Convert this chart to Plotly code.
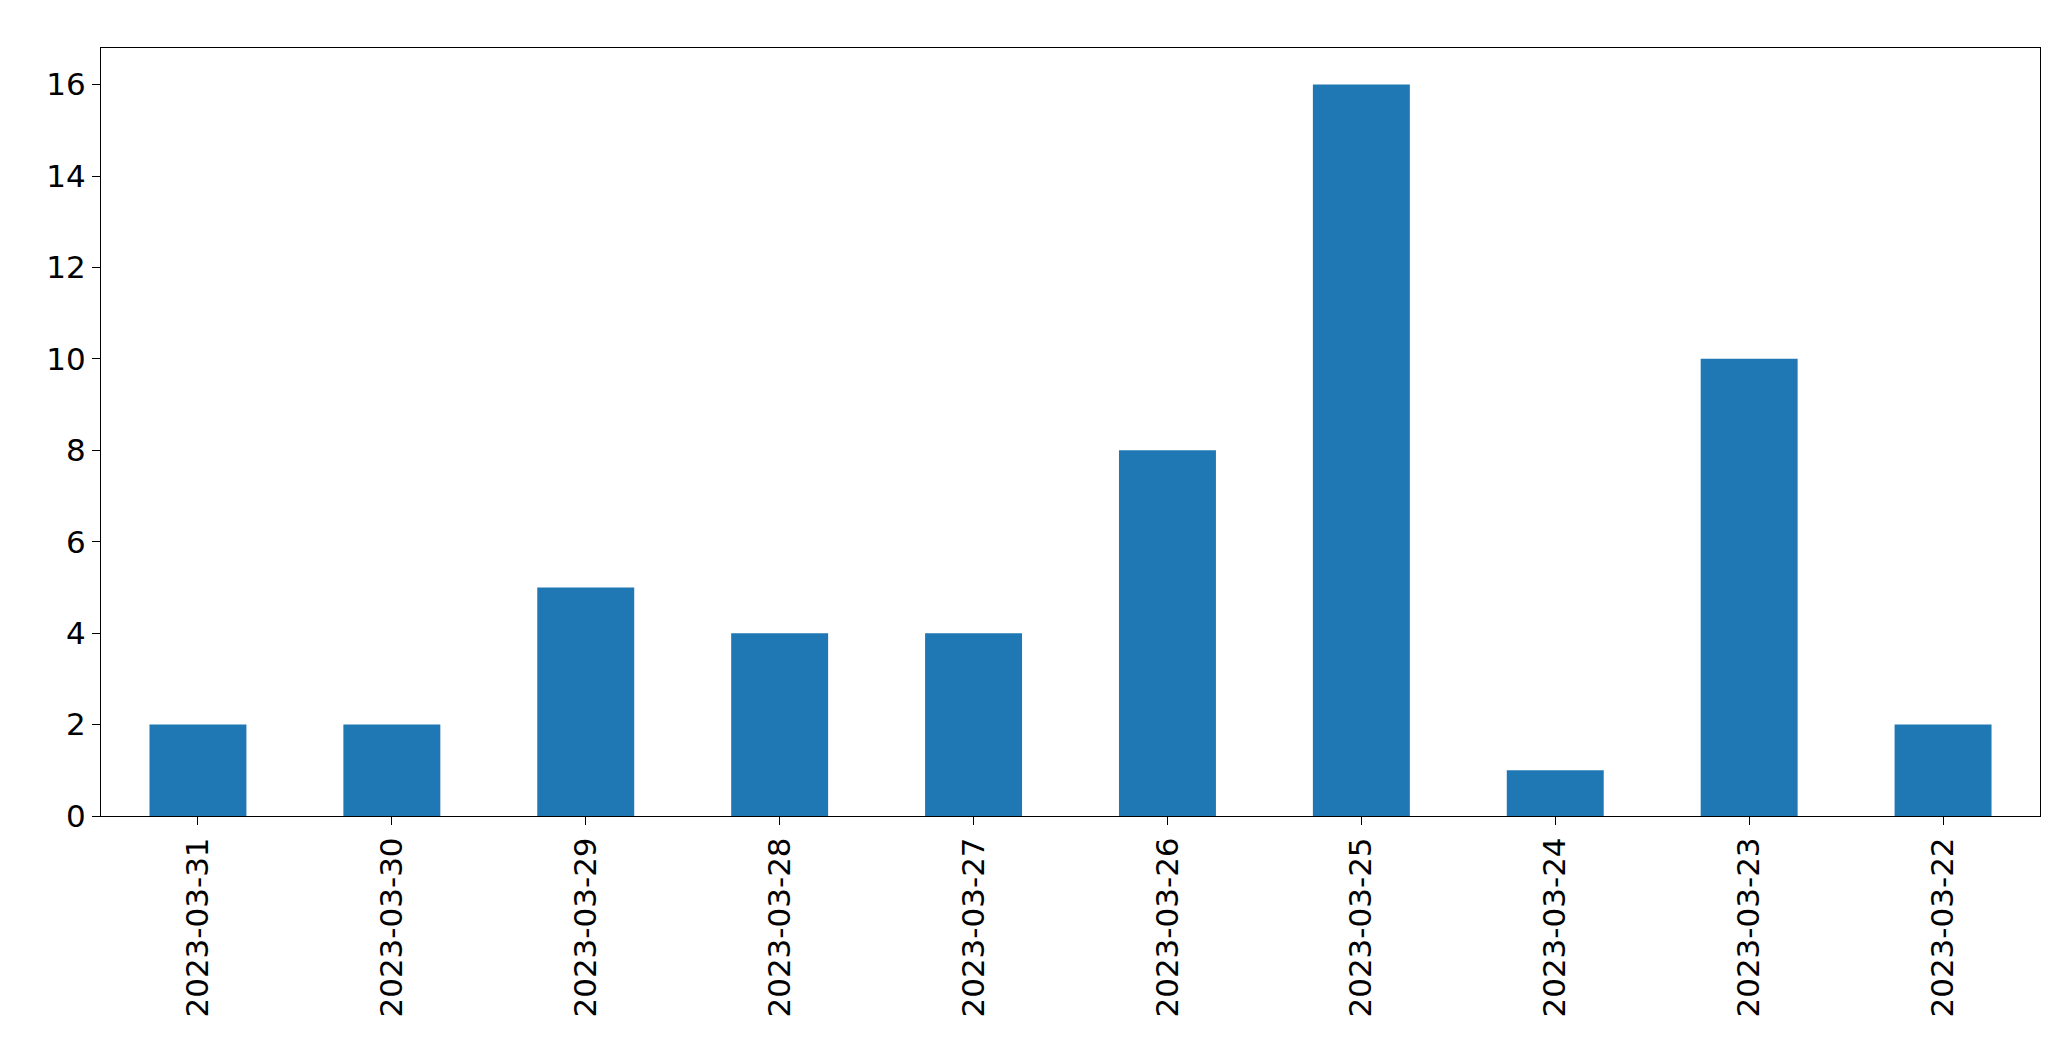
import plotly.graph_objects as go

dates = ["2023-03-31","2023-03-30","2023-03-29","2023-03-28","2023-03-27",
         "2023-03-26","2023-03-25","2023-03-24","2023-03-23","2023-03-22"]
counts = [2, 2, 5, 4, 4, 8, 16, 1, 10, 2]

fig = go.Figure(go.Bar(x=dates, y=counts, width=0.5, marker_color="#1f77b4",
                       marker_line_width=0))
axis = dict(showline=True, linecolor="black", linewidth=1, mirror=True,
            ticks="outside", ticklen=8, tickcolor="black", showgrid=False,
            zeroline=False, tickfont=dict(family="DejaVu Sans", size=31, color="black"))
fig.update_xaxes(type="category", range=[-0.5, 9.5], tickangle=-90, **axis)
fig.update_yaxes(range=[0, 16.8], tickvals=[0,2,4,6,8,10,12,14,16], **axis)
fig.update_layout(width=2071, height=1061, plot_bgcolor="white", paper_bgcolor="white",
                  margin=dict(l=93, r=39, t=40, b=253), showlegend=False)
fig.write_html("out.html")
